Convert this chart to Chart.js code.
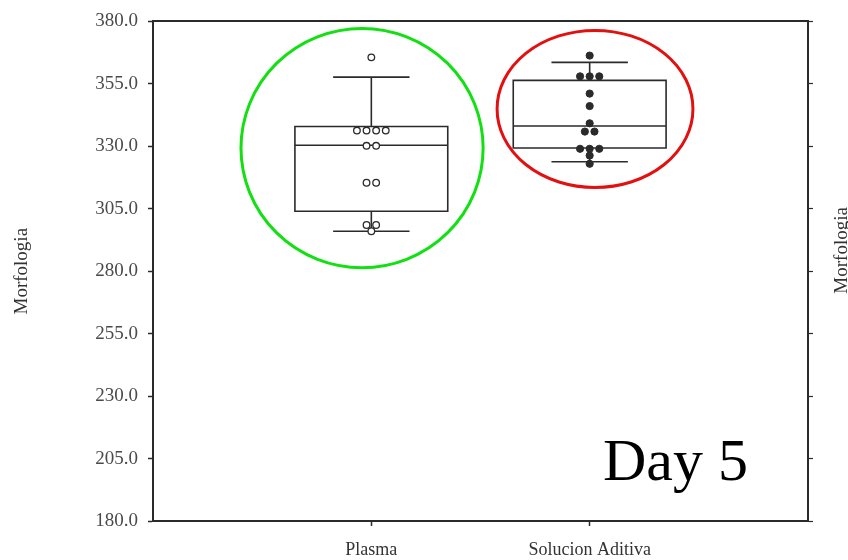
<!DOCTYPE html>
<html>
<head>
<meta charset="utf-8">
<script src="https://cdn.jsdelivr.net/npm/chart.js@4.4.1/dist/chart.umd.min.js"></script>
<style>
  html, body { margin: 0; padding: 0; background: #fff; }
  #wrap { width: 848px; height: 560px; }
</style>
</head>
<body>
<div id="wrap"><canvas id="c" width="848" height="560"></canvas></div>
<script>
// Groups along the x axis
const categories = ['Plasma', 'Solucion Aditiva'];
const yMin = 180, yMax = 380, yStep = 25;

// Box summaries, one entry per group
const whiskerLow  = [296.0, 323.8];
const q1          = [304.0, 329.3];
const median      = [330.4, 338.1];
const q3          = [337.9, 356.4];
const whiskerHigh = [357.7, 363.6];

// Individual observations per group
const plasmaValues   = [365.6, 336.3, 336.3, 336.3, 336.3, 330.2, 330.2, 315.4, 315.4, 298.5, 298.5, 296.0];
const solucionValues = [366.3, 358.0, 358.0, 358.0, 351.1, 346.1, 339.2, 335.9, 335.9, 329.0, 329.0, 329.0, 326.3, 323.0];

// Highlight rings: [xFrom, xTo, yLow, yHigh] in axis units
const ringPlasma   = [0.403, 1.512, 281.4, 377.2];
const ringSolucion = [1.576, 2.473, 313.5, 376.4];

const panelLabel = 'Day 5';
const axisTitle = 'Morfologia';

// Spread equal values side by side around the group centre
function dotRow(values, centre) {
  const counts = {}, seen = {};
  values.forEach(v => { counts[v] = (counts[v] || 0) + 1; });
  const gap = 0.044;
  return values.map(v => {
    const i = seen[v] = (seen[v] === undefined ? 0 : seen[v] + 1);
    return { x: centre + (i - (counts[v] - 1) / 2) * gap, y: v };
  });
}

const ink = '#2b2b2b';
const serif = '"Liberation Serif", "Times New Roman", serif';

const boxPlugin = {
  id: 'boxes',
  beforeDatasetsDraw(chart) {
    const { ctx, scales: { x, y } } = chart;
    ctx.save();
    ctx.strokeStyle = ink;
    ctx.lineWidth = 1.6;
    categories.forEach((c, i) => {
      const cx = i + 1;
      const bl = x.getPixelForValue(cx - 0.35), br = x.getPixelForValue(cx + 0.35);
      const cl = x.getPixelForValue(cx - 0.175), cr = x.getPixelForValue(cx + 0.175);
      const mx = x.getPixelForValue(cx);
      const yq1 = y.getPixelForValue(q1[i]), yq3 = y.getPixelForValue(q3[i]);
      const ym = y.getPixelForValue(median[i]);
      const ylo = y.getPixelForValue(whiskerLow[i]), yhi = y.getPixelForValue(whiskerHigh[i]);
      ctx.beginPath();
      ctx.rect(bl, yq3, br - bl, yq1 - yq3);
      ctx.moveTo(bl, ym); ctx.lineTo(br, ym);
      ctx.moveTo(mx, yq3); ctx.lineTo(mx, yhi);
      ctx.moveTo(mx, yq1); ctx.lineTo(mx, ylo);
      ctx.moveTo(cl, yhi); ctx.lineTo(cr, yhi);
      ctx.moveTo(cl, ylo); ctx.lineTo(cr, ylo);
      ctx.stroke();
    });
    ctx.restore();
  },
  afterDraw(chart) {
    const { ctx, chartArea, scales: { x, y } } = chart;
    ctx.save();
    const ring = (r, color) => {
      const x0 = x.getPixelForValue(r[0]), x1 = x.getPixelForValue(r[1]);
      const y0 = y.getPixelForValue(r[3]), y1 = y.getPixelForValue(r[2]);
      ctx.beginPath();
      ctx.ellipse((x0 + x1) / 2, (y0 + y1) / 2, (x1 - x0) / 2, (y1 - y0) / 2, 0, 0, Math.PI * 2);
      ctx.strokeStyle = color;
      ctx.lineWidth = 3;
      ctx.stroke();
    };
    ring(ringPlasma, '#12e012');
    ring(ringSolucion, '#e31010');

    // panel label
    ctx.fillStyle = '#000';
    ctx.font = '60px ' + serif;
    ctx.textAlign = 'right';
    ctx.textBaseline = 'alphabetic';
    ctx.fillText(panelLabel, chartArea.right - 60, chartArea.bottom - 41);

    // title of the right-hand axis, reading upward
    ctx.fillStyle = '#333';
    ctx.font = '19px ' + serif;
    ctx.textAlign = 'center';
    ctx.textBaseline = 'middle';
    ctx.translate(chart.width - 6, chartArea.top + 229);
    ctx.rotate(-Math.PI / 2);
    ctx.fillText(axisTitle, 0, 0);
    ctx.restore();
  }
};

new Chart(document.getElementById('c'), {
  type: 'scatter',
  data: {
    datasets: [
      {
        label: categories[0],
        data: dotRow(plasmaValues, 1),
        pointRadius: 3.3,
        pointBorderWidth: 1.3,
        pointBackgroundColor: '#fff',
        pointBorderColor: ink
      },
      {
        label: categories[1],
        data: dotRow(solucionValues, 2),
        pointRadius: 3.6,
        pointBorderWidth: 1,
        pointBackgroundColor: ink,
        pointBorderColor: ink
      }
    ]
  },
  options: {
    responsive: false,
    animation: false,
    layout: { padding: { top: 16, left: 0, right: 0, bottom: 0 } },
    plugins: { legend: { display: false }, tooltip: { enabled: false } },
    scales: {
      x: {
        type: 'linear',
        position: 'bottom',
        min: 0, max: 3,
        afterBuildTicks: s => { s.ticks = categories.map((c, i) => ({ value: i + 1 })); },
        afterFit: s => { s.height = 39; },
        ticks: {
          callback: v => categories[v - 1],
          font: { family: serif, size: 18 },
          color: '#333',
          padding: 13,
          maxRotation: 0
        },
        grid: { drawOnChartArea: false, tickLength: 5, color: ink, tickWidth: 1.5 },
        border: { color: ink, width: 2 }
      },
      xTop: {
        type: 'linear',
        position: 'top',
        min: 0, max: 3,
        afterFit: s => { s.height = 0; },
        ticks: { display: false },
        grid: { display: false },
        border: { color: ink, width: 2 }
      },
      y: {
        position: 'left',
        min: yMin, max: yMax,
        afterBuildTicks: s => {
          const t = [];
          for (let v = yMin; v <= yMax; v += yStep) t.push({ value: v });
          s.ticks = t;
        },
        afterFit: s => { s.width = 153; },
        ticks: {
          callback: v => Number(v).toFixed(1),
          font: { family: serif, size: 19 },
          color: '#4a4a4a',
          padding: 10
        },
        grid: { drawOnChartArea: false, tickLength: 5, color: ink, tickWidth: 1.5 },
        border: { color: ink, width: 2 },
        title: {
          display: true,
          text: axisTitle,
          font: { family: serif, size: 19 },
          color: '#333',
          padding: { top: 11, bottom: 0 }
        }
      },
      yRight: {
        position: 'right',
        min: yMin, max: yMax,
        afterBuildTicks: s => {
          const t = [];
          for (let v = yMin; v <= yMax; v += yStep) t.push({ value: v });
          s.ticks = t;
        },
        afterFit: s => { s.width = 40; },
        ticks: { display: false },
        grid: { drawOnChartArea: false, tickLength: 5, color: ink, tickWidth: 1.2 },
        border: { color: ink, width: 2 }
      }
    }
  },
  plugins: [boxPlugin]
});
</script>
</body>
</html>
